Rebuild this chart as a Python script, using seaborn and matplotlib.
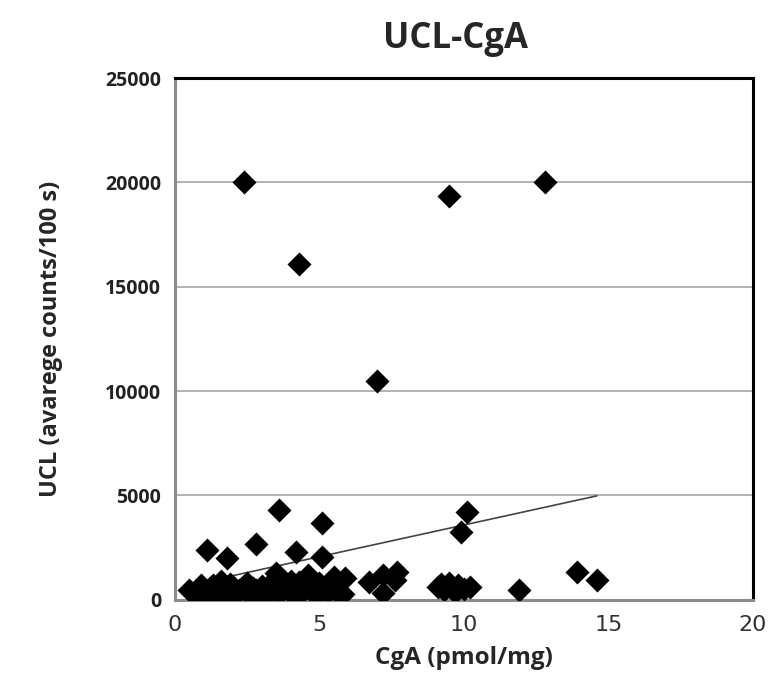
import matplotlib
matplotlib.use("Agg")
import matplotlib.pyplot as plt
import seaborn as sns
import pandas as pd

# CgA (pmol/mg) and UCL (average counts / 100 s)
cga = [2.4, 12.8, 9.5, 4.3, 7.0,
       3.6, 5.1, 1.1, 1.8, 2.8, 4.2, 5.1, 10.1, 9.9,
       0.5, 0.7, 0.9, 1.0, 1.1, 1.2, 1.4, 1.6, 1.6, 1.8,
       2.0, 2.1, 2.3, 2.5, 2.6, 2.8, 3.0, 3.1, 3.2, 3.4,
       3.5, 3.6, 3.8, 3.9, 4.1, 4.3, 4.6, 4.7, 4.9, 5.2,
       5.5, 5.6, 5.9, 5.8, 6.7, 7.2, 7.2, 7.7, 7.6, 9.1,
       9.3, 9.5, 9.6, 9.8, 10.0, 10.2, 11.9, 13.9, 14.6,
       0.8, 1.3, 1.5, 1.9, 2.2, 2.4, 2.7, 2.9, 3.3, 3.7,
       4.0, 4.4, 4.5, 5.0, 5.3, 5.4, 9.2, 9.7]
ucl = [20000, 20000, 19350, 16100, 10500,
       4300, 3700, 2400, 2000, 2650, 2300, 2050, 4200, 3250,
       450, 250, 700, 300, 150, 550, 350, 900, 400, 200,
       600, 300, 500, 800, 250, 450, 650, 200, 400, 900,
       1300, 300, 700, 500, 250, 850, 1200, 400, 250, 600,
       1100, 350, 1050, 300, 850, 1200, 330, 1340, 950, 600,
       450, 800, 550, 700, 500, 600, 450, 1350, 950,
       500, 700, 200, 750, 450, 650, 550, 300, 700, 450,
       900, 350, 600, 800, 350, 700, 750, 350]

# linear trendline end points
trend_x = [0.5, 14.6]
trend_y = [700, 4980]

df = pd.DataFrame({"CgA": cga, "UCL": ucl})

sns.set_style("white")
plt.rcParams["font.family"] = ["Open Sans", "DejaVu Sans"]

fig = plt.figure(figsize=(7.69, 6.91), dpi=100)
ax = fig.add_axes([0.2276, 0.132, 0.979 - 0.2276, 0.755])

for v in [5000, 10000, 15000, 20000]:
    ax.axhline(v, color="#a6a6a6", lw=1.2, zorder=0)

sns.scatterplot(data=df, x="CgA", y="UCL", marker="D", s=150,
                color="black", edgecolor="black", linewidth=0, ax=ax, zorder=3)
sns.lineplot(x=trend_x, y=trend_y, color="#444444", lw=1.2, ax=ax, zorder=2)

ax.set_xlim(0, 20)
ax.set_ylim(0, 25000)
ax.set_xticks([0, 5, 10, 15, 20])
ax.set_yticks([0, 5000, 10000, 15000, 20000, 25000])

ax.set_xticklabels([str(t) for t in [0, 5, 10, 15, 20]],
                   family=["Liberation Sans Narrow", "DejaVu Sans"], fontsize=16, color="#333333")
ax.set_yticklabels([str(t) for t in [0, 5000, 10000, 15000, 20000, 25000]],
                   fontsize=14, fontweight="bold", color="#222222")

ax.tick_params(axis="both", length=5, width=1.2, color="#8c8c8c", direction="out")
ax.tick_params(axis="x", pad=6)
ax.tick_params(axis="y", pad=5)

for side in ["top", "right"]:
    ax.spines[side].set_color("black")
    ax.spines[side].set_linewidth(2.2)
for side in ["left", "bottom"]:
    ax.spines[side].set_color("#8c8c8c")
    ax.spines[side].set_linewidth(2.2)

ax.set_xlabel("CgA (pmol/mg)", fontsize=17.5, fontweight="bold", labelpad=8)
ax.set_ylabel("UCL (avarege counts/100 s)", fontsize=17, fontweight="bold", labelpad=30)
fig.suptitle("UCL-CgA", x=0.592, y=0.97, fontsize=25, fontweight="bold")

fig.savefig("out.png", dpi=100)
